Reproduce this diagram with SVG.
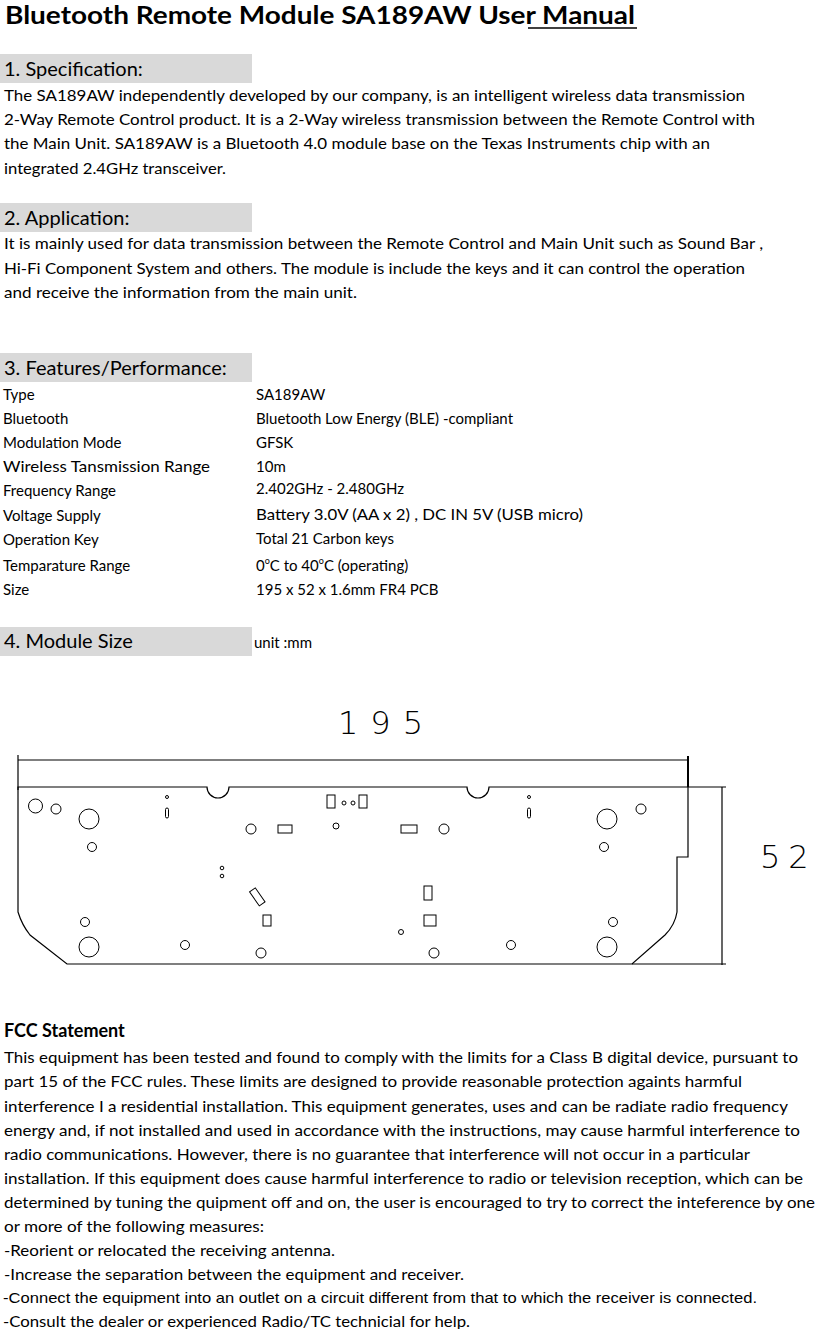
<svg xmlns="http://www.w3.org/2000/svg" width="817" height="1329" viewBox="0 0 817 1329">
<style>
text{font-family:Lato,"Open Sans","Liberation Sans",sans-serif;fill:#000}
.b{font-size:15px}
.h{font-size:20px}
.box{fill:#d9d9d9}
.ln{fill:none;stroke:#000;stroke-width:1.2}
.hole{fill:none;stroke:#000;stroke-width:1}
.dim{font-family:"DejaVu Sans",sans-serif;font-size:32px;font-weight:200;letter-spacing:12px}
</style>
<rect width="817" height="1329" fill="#fff"/>
<g id="title">
<text x="5" y="24" font-size="24" font-weight="bold" textLength="630" lengthAdjust="spacingAndGlyphs">Bluetooth Remote Module SA189AW User Manual</text>
<line x1="528" y1="28" x2="637" y2="28" stroke="#000" stroke-width="1.5"/>
</g>
<g id="sec1">
<rect class="box" x="0" y="54" width="252" height="29"/>
<text class="h" x="4" y="76">1. Specification:</text>
<text class="b" x="4" y="101" textLength="741" lengthAdjust="spacingAndGlyphs">The SA189AW independently developed by our company, is an intelligent wireless data transmission</text>
<text class="b" x="4" y="125" textLength="751" lengthAdjust="spacingAndGlyphs">2-Way Remote Control product. It is a 2-Way wireless transmission between the Remote Control with</text>
<text class="b" x="4" y="149" textLength="706" lengthAdjust="spacingAndGlyphs">the Main Unit. SA189AW is a Bluetooth 4.0 module base on the Texas Instruments  chip with an</text>
<text class="b" x="4" y="174" textLength="222" lengthAdjust="spacingAndGlyphs">integrated 2.4GHz transceiver.</text>
</g>
<g id="sec2">
<rect class="box" x="0" y="203" width="252" height="29"/>
<text class="h" x="4" y="225">2. Application:</text>
<text class="b" x="4" y="249" textLength="759" lengthAdjust="spacingAndGlyphs">It is mainly used for data transmission between the Remote Control and Main Unit such as Sound Bar ,</text>
<text class="b" x="4" y="274" textLength="741" lengthAdjust="spacingAndGlyphs">Hi-Fi Component System and others. The module is include the keys and it can control the operation</text>
<text class="b" x="4" y="298" textLength="353" lengthAdjust="spacingAndGlyphs">and receive the information from the main unit.</text>
</g>
<g id="sec3">
<rect class="box" x="0" y="353" width="252" height="29"/>
<text class="h" x="4" y="375">3. Features/Performance:</text>
<g class="b">
<text class="b" x="3" y="400">Type</text><text class="b" x="256" y="400">SA189AW</text>
<text class="b" x="3" y="424">Bluetooth</text><text class="b" x="256" y="424">Bluetooth Low Energy (BLE) -compliant</text>
<text class="b" x="3" y="448">Modulation Mode</text><text class="b" x="256" y="448">GFSK</text>
<text class="b" x="3" y="472" textLength="207" lengthAdjust="spacingAndGlyphs">Wireless Tansmission Range</text><text class="b" x="256" y="472">10m</text>
<text class="b" x="3" y="496">Frequency Range</text><text class="b" x="256" y="494">2.402GHz - 2.480GHz</text>
<text class="b" x="3" y="521">Voltage Supply</text><text class="b" x="256" y="520" textLength="327" lengthAdjust="spacingAndGlyphs">Battery 3.0V (AA x 2) ,  DC IN 5V (USB micro)</text>
<text class="b" x="3" y="545">Operation Key</text><text class="b" x="256" y="544">Total 21 Carbon keys</text>
<text class="b" x="3" y="571">Temparature Range</text><text class="b" x="256" y="571">0<tspan font-size="9" dy="-7">o</tspan><tspan dy="7">C to 40</tspan><tspan font-size="9" dy="-7">o</tspan><tspan dy="7">C  (operating)</tspan></text>
<text class="b" x="3" y="595">Size</text><text class="b" x="256" y="595">195 x 52 x 1.6mm FR4 PCB</text>
</g>
</g>
<g id="sec4">
<rect class="box" x="0" y="627" width="252" height="29"/>
<text class="h" x="4" y="648">4. Module Size</text>
<text class="b" x="254" y="648">unit :mm</text>
</g>
<g id="pcb">
<text class="dim" x="338" y="734">195</text>
<text class="dim" x="760" y="868" style="letter-spacing:8px">52</text>
<line class="ln" x1="18" y1="760" x2="688" y2="760"/>
<line class="ln" x1="18" y1="755" x2="18" y2="790"/>
<line x1="688" y1="756" x2="688" y2="787" stroke="#000" stroke-width="2"/>
<line class="ln" x1="722" y1="787" x2="722" y2="965"/>
<line class="ln" x1="688" y1="787" x2="726" y2="787"/>
<line class="ln" x1="632" y1="964" x2="726" y2="964"/>
<path class="ln" d="M18 787 H207 A11 11 0 0 0 229 787 H467 A11 11 0 0 0 489 787 H688 V857 H677 V912 Q675 925 665 935 L632 964 H67 L30 935 Q22 925 18 912 Z"/>
<g class="hole">
<circle cx="35.5" cy="806" r="7"/><circle cx="56" cy="809" r="5"/><circle cx="89" cy="819" r="10"/><circle cx="92" cy="847" r="4.5"/>
<circle cx="167" cy="797" r="1.5"/><rect x="165.5" y="808" width="3" height="10" rx="1.5"/>
<circle cx="251" cy="829" r="5"/><rect x="278" y="825" width="14" height="8"/><circle cx="336" cy="826" r="3"/>
<rect x="327" y="795" width="8" height="13"/><circle cx="344" cy="803" r="2"/><circle cx="353" cy="803" r="2"/><rect x="359" y="795" width="8" height="13"/>
<rect x="401" y="825" width="16" height="8"/><circle cx="444" cy="829" r="5"/>
<circle cx="529" cy="797" r="1.5"/><rect x="527.5" y="808" width="3" height="10" rx="1.5"/>
<circle cx="607" cy="819" r="10"/><circle cx="641" cy="809" r="5"/><circle cx="604" cy="847" r="4.5"/>
<circle cx="222" cy="868" r="1.8"/><circle cx="222" cy="876" r="1.8"/>
<rect x="254" y="888" width="7" height="17" transform="rotate(-35 258 897)"/>
<rect x="424" y="886" width="8" height="14"/><rect x="263" y="915" width="8" height="11"/><rect x="424" y="915" width="12" height="11"/>
<circle cx="85" cy="922" r="4.5"/><circle cx="613" cy="922" r="4.5"/><circle cx="401" cy="932" r="2.5"/>
<circle cx="89" cy="947" r="10"/><circle cx="185" cy="945" r="4.5"/><circle cx="261" cy="953" r="5"/><circle cx="434" cy="953" r="5"/><circle cx="511" cy="945" r="4.5"/><circle cx="607" cy="947" r="10"/>
</g>
</g>
<g id="fcc">
<text x="4" y="1037" font-size="18" font-weight="bold">FCC Statement</text>
<text class="b" x="4" y="1063" textLength="794" lengthAdjust="spacingAndGlyphs">This equipment has been tested and found to comply with the limits for a Class B digital device, pursuant to</text>
<text class="b" x="4" y="1087" textLength="738" lengthAdjust="spacingAndGlyphs">part 15 of the FCC rules. These limits are designed to provide reasonable protection againts harmful</text>
<text class="b" x="4" y="1112" textLength="784" lengthAdjust="spacingAndGlyphs">interference I a residential installation. This equipment generates, uses and can be radiate radio frequency</text>
<text class="b" x="4" y="1136" textLength="796" lengthAdjust="spacingAndGlyphs">energy and, if not installed and used in accordance with the instructions, may cause harmful interference to</text>
<text class="b" x="4" y="1160" textLength="746" lengthAdjust="spacingAndGlyphs">radio communications. However, there is no guarantee that interference will not occur in a particular</text>
<text class="b" x="4" y="1184" textLength="799" lengthAdjust="spacingAndGlyphs">installation. If this equipment does cause harmful interference to radio or television reception, which can be</text>
<text class="b" x="4" y="1208" textLength="811" lengthAdjust="spacingAndGlyphs">determined by tuning the quipment off and on, the user is encouraged to try to correct the inteference by one</text>
<text class="b" x="4" y="1232" textLength="260" lengthAdjust="spacingAndGlyphs">or more of the following measures:</text>
<text class="b" x="4" y="1256" textLength="331" lengthAdjust="spacingAndGlyphs"> -Reorient or relocated the receiving antenna.</text>
<text class="b" x="4" y="1280" textLength="460" lengthAdjust="spacingAndGlyphs"> -Increase the separation between the equipment and receiver.</text>
<text x="3" y="1303" font-size="15" style="font-family:'Liberation Sans',Arial,sans-serif" textLength="754" lengthAdjust="spacingAndGlyphs">-Connect the equipment into an outlet on a circuit different from that to which the receiver is connected.</text>
<text class="b" x="3" y="1327" textLength="467" lengthAdjust="spacingAndGlyphs">-Consult the dealer or experienced Radio/TC technicial for help.</text>
</g>
</svg>
